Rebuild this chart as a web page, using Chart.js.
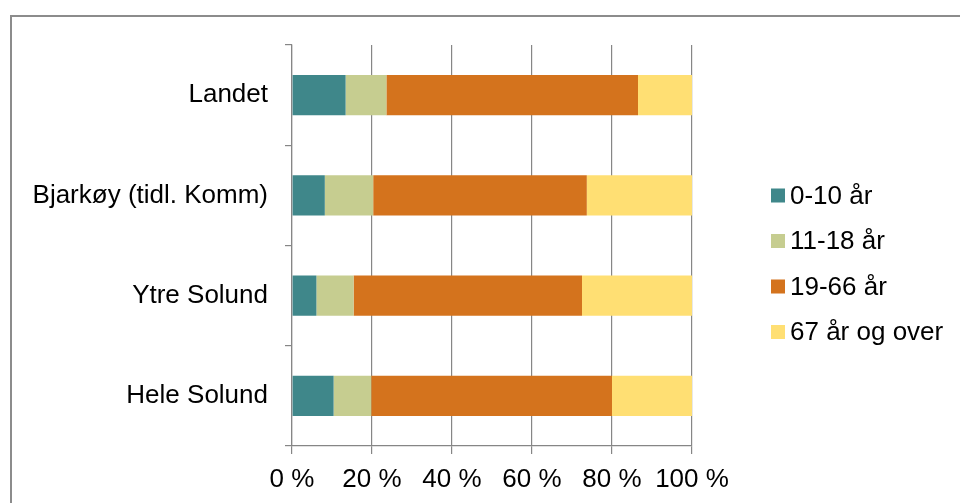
<!DOCTYPE html>
<html>
<head>
<meta charset="utf-8">
<script src="https://cdn.jsdelivr.net/npm/chart.js@4"></script>
<style>
  html, body { margin: 0; padding: 0; background: #fff; }
  #wrap { width: 960px; height: 503px; position: relative; }
</style>
</head>
<body>
<div id="wrap"><canvas id="c" width="960" height="503"></canvas></div>
<script>
// Population share by age group (percent of total)
const categories = ['Landet', 'Bjarkøy (tidl. Komm)', 'Ytre Solund', 'Hele Solund'];
const seriesNames = ['0-10 år', '11-18 år', '19-66 år', '67 år og over'];
const age0to10   = [13.4, 8.2, 6.1, 10.4];
const age11to18  = [10.2, 12.1, 9.3, 9.4];
const age19to66  = [62.9, 53.4, 57.1, 60.2];
const age67plus  = [13.5, 26.3, 27.5, 20.0];
const xTicks = [0, 20, 40, 60, 80, 100];

const colors = ['#3F878A', '#C6CD90', '#D4731D', '#FFDF73'];
const FONT = "'Liberation Sans', Arial, sans-serif";
const GRID = '#868686';

const seriesValues = [age0to10, age11to18, age19to66, age67plus];

// Outer frame (left and top edges)
const framePlugin = {
  id: 'frame',
  beforeDraw(chart) {
    const ctx = chart.ctx;
    ctx.save();
    ctx.strokeStyle = '#8C8C8C';
    ctx.lineWidth = 2;
    ctx.beginPath();
    ctx.moveTo(11, 503);
    ctx.lineTo(11, 16);
    ctx.lineTo(960, 16);
    ctx.stroke();
    ctx.restore();
  }
};

// Legend at the right of the plot
const legendPlugin = {
  id: 'sideLegend',
  afterDraw(chart) {
    const ctx = chart.ctx;
    ctx.save();
    ctx.font = '26px ' + FONT;
    ctx.textBaseline = 'middle';
    ctx.textAlign = 'left';
    const rows = [195.5, 241, 286.5, 332];
    chart.data.datasets.forEach((ds, i) => {
      const cy = rows[i];
      ctx.fillStyle = ds.backgroundColor;
      ctx.fillRect(771, cy - 7, 14, 14);
      ctx.fillStyle = '#000';
      ctx.fillText(ds.label, 790, cy + 1);
    });
    ctx.restore();
  }
};

new Chart(document.getElementById('c'), {
  type: 'bar',
  data: {
    labels: categories,
    datasets: seriesNames.map((name, i) => ({
      label: name,
      data: seriesValues[i],
      backgroundColor: colors[i],
      borderWidth: 0,
      barPercentage: 0.4,
      categoryPercentage: 1.0
    }))
  },
  options: {
    indexAxis: 'y',
    responsive: false,
    animation: false,
    layout: { padding: { left: 0, right: 268, top: 45, bottom: 0 } },
    plugins: {
      legend: { display: false },
      tooltip: { enabled: false }
    },
    scales: {
      x: {
        stacked: true,
        min: 0,
        max: 100,
        afterFit(scale) { scale.height = 57; },
        afterBuildTicks(scale) { scale.ticks = xTicks.map(v => ({ value: v })); },
        ticks: {
          color: '#000',
          font: { family: FONT, size: 26 },
          padding: 10,
          maxRotation: 0,
          callback: v => v + ' %'
        },
        grid: { color: GRID, lineWidth: 1.2, tickLength: 8, drawTicks: true },
        border: { color: GRID, width: 1.2 }
      },
      y: {
        stacked: true,
        afterFit(scale) { scale.width = 292; },
        ticks: {
          color: '#000',
          font: { family: FONT, size: 26 },
          padding: 17
        },
        grid: { drawOnChartArea: false, color: GRID, lineWidth: 1.2, tickLength: 7, drawTicks: true, offset: true },
        border: { color: GRID, width: 1.2 }
      }
    }
  },
  plugins: [framePlugin, legendPlugin]
});
</script>
</body>
</html>
